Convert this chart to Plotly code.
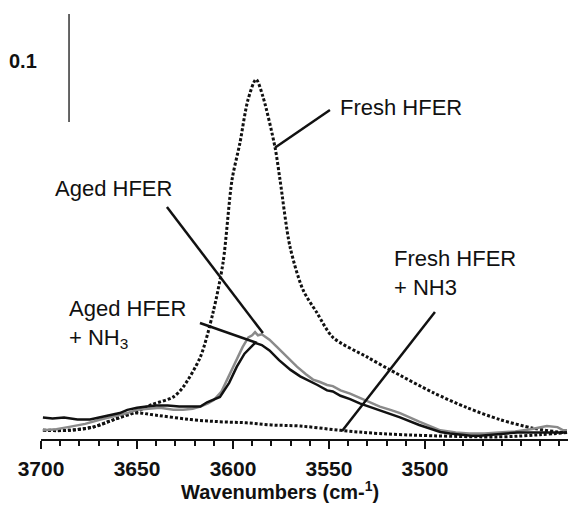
import plotly.graph_objects as go

# ---- data (wavenumber cm-1, absorbance) ----
fresh_wn = [3699, 3692, 3686, 3673, 3662, 3652, 3642, 3631, 3626, 3617, 3610.4, 3605.2, 3600.5,
            3596.4, 3592.2, 3588, 3584.4, 3578.1, 3575.5, 3570.3, 3563.5, 3556.3, 3547.9, 3530.2,
            3518.2, 3495.8, 3478.1, 3461, 3443.7, 3428, 3426]
fresh_abs = [0.008, 0.008, 0.008, 0.011, 0.018, 0.024, 0.032, 0.039, 0.048, 0.076, 0.117, 0.163,
             0.240, 0.274, 0.314, 0.333, 0.317, 0.270, 0.240, 0.178, 0.138, 0.117, 0.094, 0.076,
             0.064, 0.043, 0.029, 0.018, 0.010, 0.006, 0.006]

fresh_nh3_wn = [3699, 3686, 3673, 3662, 3652, 3640, 3622, 3607, 3593, 3580, 3565, 3544, 3523.5,
                3496, 3461, 3440, 3426]
fresh_nh3_abs = [0.008, 0.008, 0.011, 0.018, 0.024, 0.022, 0.018, 0.016, 0.015, 0.013, 0.012,
                 0.008, 0.005, 0.003, 0.002, 0.004, 0.006]

aged_wn = [3699, 3692, 3686, 3677, 3669, 3662, 3655, 3650, 3645, 3638, 3631, 3626, 3621, 3617,
           3613, 3610, 3606, 3603, 3599, 3595, 3592, 3590, 3588.5, 3587, 3585, 3581, 3577, 3572,
           3566.7, 3562, 3558.3, 3555, 3551, 3548, 3544, 3539, 3534, 3529, 3523.5, 3518, 3513,
           3503, 3492, 3484, 3477, 3469, 3461, 3453, 3445, 3436.5, 3431, 3428, 3426]
aged_abs = [0.008, 0.009, 0.011, 0.014, 0.018, 0.021, 0.024, 0.027, 0.028, 0.029, 0.027, 0.027,
            0.028, 0.030, 0.033, 0.036, 0.044, 0.055, 0.070, 0.085, 0.094, 0.096, 0.099, 0.096,
            0.097, 0.092, 0.085, 0.076, 0.067, 0.060, 0.055, 0.053, 0.050, 0.049, 0.045, 0.042,
            0.038, 0.034, 0.030, 0.027, 0.024, 0.016, 0.008, 0.006, 0.005, 0.005, 0.006, 0.007,
            0.009, 0.012, 0.011, 0.008, 0.008]

aged_nh3_wn = [3699, 3694, 3688, 3681, 3674.5, 3669, 3664, 3659, 3655, 3650, 3645, 3640, 3634,
               3628, 3621, 3617, 3613.5, 3610, 3606.8, 3602, 3598, 3594, 3591, 3588.5, 3585,
               3581, 3576, 3570, 3565, 3561.5, 3556, 3551, 3548, 3544, 3539, 3534, 3529,
               3523.5, 3518, 3513, 3503, 3492, 3487, 3482, 3476, 3471.5, 3466, 3461, 3452, 3444,
               3435, 3426]
aged_nh3_abs = [0.020, 0.019, 0.020, 0.018, 0.018, 0.020, 0.022, 0.024, 0.027, 0.029, 0.030,
                0.031, 0.031, 0.030, 0.030, 0.030, 0.034, 0.037, 0.039, 0.052, 0.067, 0.079,
                0.085, 0.089, 0.087, 0.082, 0.073, 0.064, 0.058, 0.055, 0.050, 0.045, 0.044,
                0.040, 0.037, 0.033, 0.030, 0.027, 0.023, 0.020, 0.013, 0.0065, 0.005, 0.004,
                0.003, 0.003, 0.004, 0.005, 0.006, 0.006, 0.006, 0.006]

# scale bar (0.1 absorbance)
SCALE_X = 3685.4
SCALE_Y0 = 0.2935
SCALE_LEN = 0.1

X_RANGE = [3700, 3425.5]
Y_RANGE = [0, 0.4065]
major_ticks = [3700, 3650, 3600, 3550, 3500]

# labels: (text, x, y) and leader lines (x0, y0, x1, y1)
labels = [
    ("Fresh HFER", 3545.3, 0.3074),
    ("Aged HFER", 3693.7, 0.2324),
    ("Aged HFER<br>+ NH<sub>3</sub>", 3686.5, 0.1069),
    ("Fresh HFER<br>+ NH3", 3517.2, 0.1537),
]
leaders = [
    (3578.0, 0.270, 3549.5, 0.3046),
    (3634.4, 0.2148, 3584.4, 0.0981),
    (3617.2, 0.1074, 3587.5, 0.0889),
    (3494.8, 0.1176, 3543.2, 0.0074),
]

FONT = "Liberation Sans, Arial, Helvetica, sans-serif"

fig = go.Figure()
fig.add_trace(go.Scatter(x=fresh_nh3_wn, y=fresh_nh3_abs, mode="lines",
                         line=dict(color="#111111", width=3, dash="3px,2px", shape="spline"),
                         name="Fresh HFER + NH3"))
fig.add_trace(go.Scatter(x=fresh_wn, y=fresh_abs, mode="lines",
                         line=dict(color="#111111", width=3, dash="3px,2px", shape="spline",
                                   smoothing=0.8),
                         name="Fresh HFER"))
fig.add_trace(go.Scatter(x=aged_wn, y=aged_abs, mode="lines",
                         line=dict(color="#8a8a8a", width=2.5),
                         name="Aged HFER"))
fig.add_trace(go.Scatter(x=aged_nh3_wn, y=aged_nh3_abs, mode="lines",
                         line=dict(color="#111111", width=2.5),
                         name="Aged HFER + NH3"))

# scale bar
fig.add_shape(type="line", x0=SCALE_X, x1=SCALE_X, y0=SCALE_Y0, y1=SCALE_Y0 + SCALE_LEN,
              xref="x", yref="y", line=dict(color="#333333", width=1.5))
fig.add_annotation(text="<b>0.1</b>", x=SCALE_X, y=SCALE_Y0 + SCALE_LEN / 2 + 0.0065,
                   xref="x", yref="y", xanchor="right", xshift=-30, yanchor="middle",
                   showarrow=False, font=dict(family=FONT, size=20, color="#111111"))

for (x0, y0, x1, y1) in leaders:
    fig.add_shape(type="line", x0=x0, y0=y0, x1=x1, y1=y1, xref="x", yref="y",
                  line=dict(color="#111111", width=2.5))

for (t, x, y) in labels:
    fig.add_annotation(text=t, x=x, y=y, xref="x", yref="y", xanchor="left",
                       yanchor="middle", align="left", showarrow=False,
                       font=dict(family=FONT, size=22, color="#111111"))

# x-axis title (centred slightly left of the plot centre, as in the reference)
fig.add_annotation(text="<b>Wavenumbers (cm-<sup>1</sup>)</b>", x=0.4535, y=-0.1162,
                   xref="paper", yref="paper", xanchor="center", yanchor="middle",
                   showarrow=False, font=dict(family=FONT, size=20, color="#111111"))

fig.update_layout(
    width=568, height=510,
    margin=dict(l=41, r=0, t=0, b=71),
    paper_bgcolor="white", plot_bgcolor="white",
    showlegend=False,
    font=dict(family=FONT, color="#111111"),
)
fig.update_xaxes(
    range=X_RANGE, tickmode="array", tickvals=major_ticks,
    ticktext=[f"<b>{v}</b>" for v in major_ticks],
    tickfont=dict(family=FONT, size=21, color="#111111"),
    ticks="outside", ticklen=8, tickwidth=1.5, tickcolor="#111111",
    minor=dict(dtick=10, ticks="outside", ticklen=5, tickwidth=1.5, tickcolor="#111111"),
    showline=True, linecolor="#111111", linewidth=2,
    showgrid=False, zeroline=False,
    ticklabelstandoff=2,
)
fig.update_yaxes(range=Y_RANGE, visible=False, showgrid=False, zeroline=False)

fig.write_html("out.html")
